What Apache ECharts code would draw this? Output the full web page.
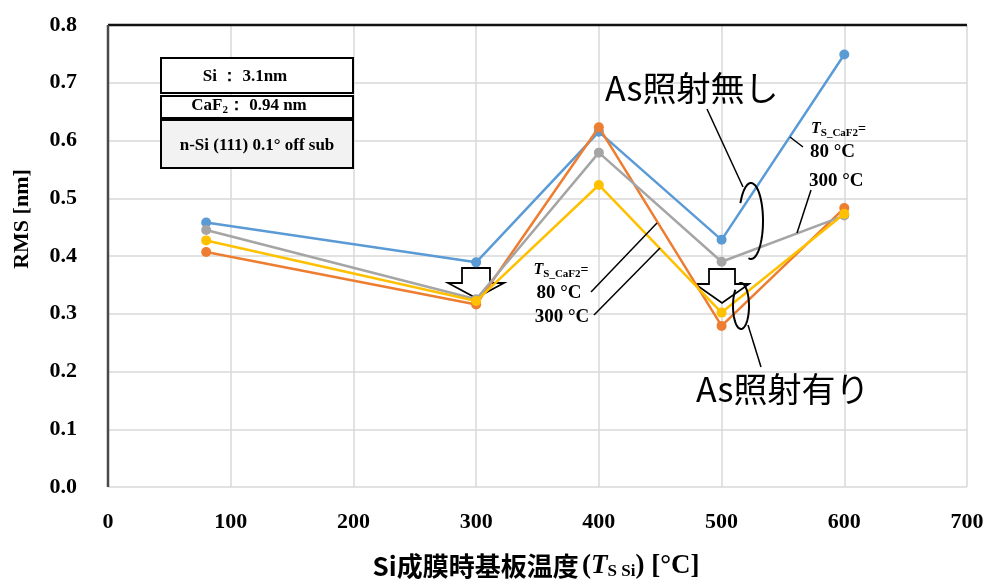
<!DOCTYPE html>
<html>
<head>
<meta charset="utf-8">
<script src="https://cdn.jsdelivr.net/npm/echarts@6/dist/echarts.min.js"></script>
<style>
  html, body { margin: 0; padding: 0; background: #ffffff; }
  #chart { width: 987px; height: 580px; }
</style>
</head>
<body>
<div id="chart"></div>
<script>
// Substrate temperature during Si growth (°C)
const temperatures = [80, 300, 400, 500, 600];

// RMS roughness (nm) for each CaF2 growth temperature, with / without As irradiation
const rmsNoAs80 = [0.458, 0.389, 0.615, 0.428, 0.749];
const rmsAs80 = [0.407, 0.316, 0.623, 0.279, 0.483];
const rmsNoAs300 = [0.445, 0.325, 0.579, 0.390, 0.470];
const rmsAs300 = [0.427, 0.322, 0.523, 0.302, 0.473];

const seriesNames = ['As照射無し 80 °C', 'As照射有り 80 °C', 'As照射無し 300 °C', 'As照射有り 300 °C'];
const seriesColors = ['#5B9BD5', '#ED7D31', '#A5A5A5', '#FFC000'];

const xTicks = { min: 0, max: 700, interval: 100 };
const yTicks = { min: 0, max: 0.8, interval: 0.1 };

const SERIF = '"Liberation Serif", "Times New Roman", serif';
const CJK = '"Noto Sans CJK JP", "Noto Sans", sans-serif';

function pairs(values) {
  return temperatures.map((t, i) => [t, values[i]]);
}

// points along an elliptical arc (screen coordinates, y down)
function ellipseArc(cx, cy, rx, ry, a0, a1) {
  const pts = [];
  const steps = 60;
  for (let i = 0; i <= steps; i++) {
    const a = (a0 + (a1 - a0) * i / steps) * Math.PI / 180;
    pts.push([cx + rx * Math.cos(a), cy + ry * Math.sin(a)]);
  }
  return pts;
}

// white block arrow pointing down
function downArrow(cx, top, shoulder, tip, shaftHalf, headHalf) {
  return [
    [cx - shaftHalf, top], [cx + shaftHalf, top], [cx + shaftHalf, shoulder],
    [cx + headHalf, shoulder], [cx, tip], [cx - headHalf, shoulder], [cx - shaftHalf, shoulder]
  ];
}

const tempRich = {
  t: { font: 'italic bold 16px ' + SERIF, fill: '#000' },
  sub: { font: 'bold 11px ' + SERIF, fill: '#000', padding: [9, 0, 0, 0] },
  eq: { font: 'bold 14px ' + SERIF, fill: '#000' }
};

function lineEl(x1, y1, x2, y2, w) {
  return { type: 'line', z: 20, shape: { x1, y1, x2, y2 }, style: { stroke: '#000', lineWidth: w || 1.5 } };
}

function textEl(x, y, text, font, align, extra) {
  return Object.assign({
    type: 'text', z: 20, x, y,
    style: { text, font, fill: '#000', textAlign: align || 'left', textVerticalAlign: 'middle' }
  }, extra || {});
}

const chart = echarts.init(document.getElementById('chart'), null, { renderer: 'canvas' });

const graphics = [
  // plot frame: dark top and left edges
  { type: 'line', z: 5, shape: { x1: 108, y1: 25, x2: 967, y2: 25 }, style: { stroke: '#111', lineWidth: 2.5 } },
  { type: 'line', z: 5, shape: { x1: 108, y1: 25, x2: 108, y2: 487 }, style: { stroke: '#4a4a4a', lineWidth: 2.5 } },

  // sample structure box
  { type: 'rect', z: 10, shape: { x: 161, y: 58, width: 192, height: 35 }, style: { fill: '#fff', stroke: '#000', lineWidth: 2 } },
  { type: 'rect', z: 10, shape: { x: 161, y: 96, width: 192, height: 22 }, style: { fill: '#fff', stroke: '#000', lineWidth: 2 } },
  { type: 'rect', z: 10, shape: { x: 161, y: 120, width: 192, height: 48 }, style: { fill: '#f2f2f2', stroke: '#000', lineWidth: 2 } },
  textEl(245, 77, 'Si ： 3.1nm', 'bold 17px ' + SERIF, 'center'),
  {
    type: 'text', z: 20, x: 249, y: 106,
    style: {
      text: '{a|CaF}{s|2}{a|： 0.94 nm}', textAlign: 'center', textVerticalAlign: 'middle',
      rich: {
        a: { font: 'bold 17px ' + SERIF, fill: '#000' },
        s: { font: 'bold 11px ' + SERIF, fill: '#000', padding: [9, 0, 0, 0] }
      }
    }
  },
  textEl(257, 146, 'n-Si (111) 0.1° off sub', 'bold 17px ' + SERIF, 'center'),

  // down arrows at 300 °C and 500 °C
  { type: 'polygon', z: 1, shape: { points: downArrow(476, 268, 283, 298, 14, 28) }, style: { fill: '#fff', stroke: '#000', lineWidth: 1.8 } },
  { type: 'polygon', z: 1, shape: { points: downArrow(722, 269, 284, 303, 13, 27) }, style: { fill: '#fff', stroke: '#000', lineWidth: 1.8 } },

  // "without As" callout
  textEl(605, 88, 'As照射無し', '34px ' + CJK, 'left'),
  lineEl(707, 109, 743, 187),
  { type: 'polyline', z: 20, shape: { points: ellipseArc(751, 221, 12, 38, 208, 462) }, style: { stroke: '#000', lineWidth: 2, fill: null } },

  // "with As" callout
  textEl(696, 389, 'As照射有り', '34px ' + CJK, 'left'),
  lineEl(748, 325, 761, 367),
  { type: 'polyline', z: 20, shape: { points: ellipseArc(741, 306, 8, 23, 250, 585) }, style: { stroke: '#000', lineWidth: 2, fill: null } },

  // CaF2 growth temperature labels (middle)
  {
    type: 'text', z: 20, x: 561, y: 270,
    style: { text: '{t|T}{sub|S_CaF2}{eq|=}', textAlign: 'center', textVerticalAlign: 'middle', rich: tempRich }
  },
  textEl(559, 293, '80 °C', 'bold 19px ' + SERIF, 'center'),
  textEl(562, 317, '300 °C', 'bold 19px ' + SERIF, 'center'),
  lineEl(591, 292, 657, 223),
  lineEl(594, 315, 660, 248),

  // CaF2 growth temperature labels (right)
  {
    type: 'text', z: 20, x: 811, y: 129,
    style: { text: '{t|T}{sub|S_CaF2}{eq|=}', textAlign: 'left', textVerticalAlign: 'middle', rich: tempRich }
  },
  textEl(810, 152, '80 °C', 'bold 19px ' + SERIF, 'left'),
  textEl(809, 181, '300 °C', 'bold 19px ' + SERIF, 'left'),
  lineEl(790, 137, 803, 147),
  lineEl(811, 190, 797, 233),

  // y-axis title
  {
    type: 'text', z: 20, x: 22, y: 219, rotation: Math.PI / 2,
    style: { text: 'RMS [nm]', font: 'bold 22px ' + SERIF, fill: '#000', textAlign: 'center', textVerticalAlign: 'middle' }
  },

  // x-axis title
  {
    type: 'text', z: 20, x: 536, y: 566,
    style: {
      text: '{c|Si成膜時基板温度} {s|(}{i|T}{b|S Si}{s|) [°C]}',
      textAlign: 'center', textVerticalAlign: 'middle',
      rich: {
        c: { font: 'bold 26px ' + CJK, fill: '#000' },
        s: { font: 'bold 27px ' + SERIF, fill: '#000' },
        i: { font: 'italic bold 27px ' + SERIF, fill: '#000' },
        b: { font: 'bold 17px ' + SERIF, fill: '#000', padding: [12, 0, 0, 0] }
      }
    }
  }
];

const series = [rmsNoAs80, rmsAs80, rmsNoAs300, rmsAs300].map((vals, i) => ({
  name: seriesNames[i],
  type: 'line',
  data: pairs(vals),
  symbol: 'circle',
  symbolSize: 10,
  z: 2 + i,
  lineStyle: { color: seriesColors[i], width: 2.5 },
  itemStyle: { color: seriesColors[i] },
  animation: false
}));

chart.setOption({
  animation: false,
  backgroundColor: '#ffffff',
  grid: { left: 108, right: 20, top: 25, bottom: 93, containLabel: false, outerBoundsMode: 'none' },
  xAxis: {
    type: 'value',
    min: xTicks.min, max: xTicks.max, interval: xTicks.interval,
    axisLine: { show: false },
    axisTick: { show: false },
    splitLine: { show: true, lineStyle: { color: '#d9d9d9', width: 1.5 } },
    axisLabel: { margin: 24, color: '#000', fontFamily: SERIF, fontWeight: 'bold', fontSize: 22 }
  },
  yAxis: {
    type: 'value',
    min: yTicks.min, max: yTicks.max, interval: yTicks.interval,
    axisLine: { show: false },
    axisTick: { show: false },
    splitLine: { show: true, lineStyle: { color: '#d9d9d9', width: 1.5 } },
    axisLabel: {
      margin: 31, color: '#000', fontFamily: SERIF, fontWeight: 'bold', fontSize: 22,
      formatter: v => v.toFixed(1)
    }
  },
  graphic: { elements: graphics },
  series
});
</script>
</body>
</html>
